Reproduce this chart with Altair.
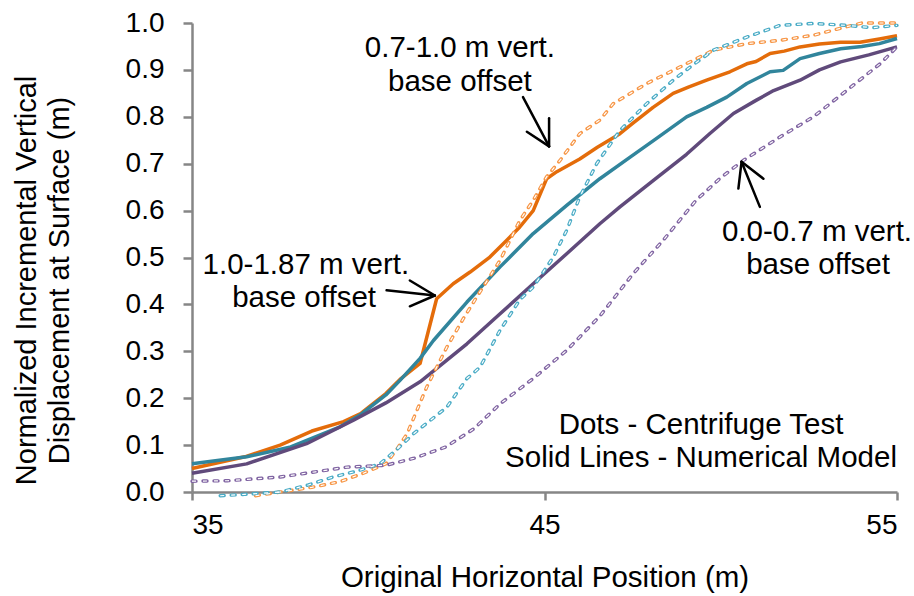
import altair as alt
import pandas as pd

# ---------------- data ----------------
# Numerical model (solid lines)
num_a_x = [35, 36.5, 37.5, 38.4, 39.3, 39.8, 40.5, 40.9, 41.47, 41.94, 42.41, 42.89, 43.45, 43.93, 44.3,
           44.68, 45.06, 45.35, 46.0, 46.5, 47.14, 47.5, 48.08, 48.65, 49.1, 49.6, 50.26, 50.74, 51.0,
           51.4, 51.8, 52.25, 52.8, 53.4, 53.95, 54.5, 55]
num_a_y = [0.05, 0.075, 0.10, 0.13, 0.15, 0.168, 0.21, 0.24, 0.274, 0.412, 0.444, 0.469, 0.501, 0.537, 0.565,
           0.60, 0.668, 0.683, 0.71, 0.735, 0.764, 0.786, 0.82, 0.85, 0.864, 0.878, 0.896, 0.913, 0.918,
           0.935, 0.94, 0.949, 0.955, 0.959, 0.959, 0.966, 0.973]

num_b_x = [35, 36.55, 37.8, 39.2, 39.8, 40.5, 40.9, 41.47, 41.85, 42.8, 43.74, 44.68, 45.63, 46.57, 47.43,
           48.2, 49.03, 49.6, 50.17, 50.74, 51.4, 51.77, 52.25, 52.8, 53.4, 54.0, 54.5, 55]
num_b_y = [0.06, 0.075, 0.096, 0.139, 0.166, 0.207, 0.238, 0.285, 0.323, 0.405, 0.48, 0.551, 0.611, 0.668, 0.714,
           0.755, 0.80, 0.82, 0.842, 0.871, 0.896, 0.899, 0.924, 0.935, 0.945, 0.95, 0.956, 0.967]

num_c_x = [35, 36.55, 38.25, 39.58, 40.5, 41.47, 42.8, 43.74, 44.68, 45.63, 46.57, 47.14, 48.1, 49.03, 49.7,
           50.36, 51.0, 51.5, 52.25, 52.8, 53.4, 54.2, 55]
num_c_y = [0.04, 0.06, 0.103, 0.153, 0.19, 0.235, 0.316, 0.38, 0.444, 0.508, 0.572, 0.608, 0.665, 0.72, 0.765,
           0.807, 0.835, 0.856, 0.878, 0.9, 0.917, 0.932, 0.949]

# Centrifuge test (dashed lines)
cen_a_x = [36.8, 37.5, 38.4, 39.2, 39.86, 40.5, 40.8, 41.1, 41.66, 42.23, 42.7, 43.08, 43.74, 44.3, 44.68,
           45.06, 45.44, 46.0, 46.57, 46.95, 47.9, 48.84, 49.79, 50.74, 51.68, 52.63, 53.57, 54.0, 55]
cen_a_y = [-0.008, 0.0, 0.01, 0.022, 0.04, 0.06, 0.09, 0.124, 0.224, 0.309, 0.37, 0.416, 0.494, 0.579, 0.622,
           0.672, 0.707, 0.764, 0.793, 0.828, 0.871, 0.906, 0.942, 0.956, 0.963, 0.974, 0.992, 1.0, 1.0]

cen_b_x = [35.8, 36.5, 37.5, 38.3, 39.0, 39.7, 40.33, 40.8, 41.28, 42.23, 42.8, 43.17, 43.74, 44.3, 44.68,
           45.25, 45.63, 46.0, 46.48, 47.14, 47.9, 48.65, 49.2, 49.79, 50.74, 51.68, 52.63, 53.57, 54.3, 55]
cen_b_y = [-0.008, -0.005, 0.0, 0.015, 0.032, 0.045, 0.06, 0.09, 0.124, 0.181, 0.242, 0.266, 0.345, 0.41, 0.437,
           0.501, 0.558, 0.629, 0.70, 0.771, 0.828, 0.878, 0.91, 0.942, 0.97, 0.995, 0.999, 0.995, 0.99, 0.995]

cen_c_x = [35, 36.0, 37.5, 38.5, 39.4, 40.5, 41.3, 42.2, 43.0, 43.74, 44.68, 45.63, 46.57, 47.52, 48.37,
           49.3, 50.0, 50.64, 51.68, 52.63, 53.57, 54.52, 55]
cen_c_y = [0.023, 0.024, 0.032, 0.043, 0.053, 0.057, 0.072, 0.096, 0.135, 0.188, 0.242, 0.302, 0.375, 0.466, 0.537,
           0.622, 0.67, 0.707, 0.757, 0.80, 0.856, 0.913, 0.949]

series_names = ["1.0-1.87 m", "0.7-1.0 m", "0.0-0.7 m"]
solid_colors = ["#E46C0A", "#31859C", "#604A7B"]
dash_colors = ["#F79646", "#4BACC6", "#8064A2"]

# annotation texts (x, y in data units)
ann_text = ["0.7-1.0 m vert.", "base offset",
            "1.0-1.87 m vert.", "base offset",
            "0.0-0.7 m vert.", "base offset",
            "Dots - Centrifuge Test", "Solid Lines - Numerical Model"]
ann_x = [42.60, 42.60, 38.23, 38.18, 52.73, 52.76, 49.44, 49.44]
ann_y = [0.946, 0.874, 0.483, 0.413, 0.554, 0.483, 0.142, 0.072]

# arrow segments (shaft + two head strokes), data units
arr_x = [44.39, 45.13, 45.13, 40.52, 41.89, 41.89, 51.11, 50.59, 50.59]
arr_y = [0.842, 0.737, 0.737, 0.430, 0.419, 0.419, 0.608, 0.704, 0.704]
arr_x2 = [45.13, 45.13, 44.50, 41.89, 41.18, 41.18, 50.59, 50.50, 51.21]
arr_y2 = [0.737, 0.797, 0.768, 0.419, 0.451, 0.396, 0.704, 0.647, 0.668]

x_ticks = [35, 45, 55]
y_ticks = [0.0, 0.1, 0.2, 0.3, 0.4, 0.5, 0.6, 0.7, 0.8, 0.9, 1.0]


def to_long(groups):
    rows = []
    for name, xs, ys in groups:
        for i, (xv, yv) in enumerate(zip(xs, ys)):
            rows.append({"series": name, "x": xv, "y": yv, "i": i})
    return pd.DataFrame(rows)


solid_df = to_long([(series_names[0], num_a_x, num_a_y),
                    (series_names[1], num_b_x, num_b_y),
                    (series_names[2], num_c_x, num_c_y)])
dash_df = to_long([(series_names[0], cen_a_x, cen_a_y),
                   (series_names[1], cen_b_x, cen_b_y),
                   (series_names[2], cen_c_x, cen_c_y)])
ann_df = pd.DataFrame({"x": ann_x, "y": ann_y, "t": ann_text})
arr_df = pd.DataFrame({"x": arr_x, "y": arr_y, "x2": arr_x2, "y2": arr_y2})

FONT = "Liberation Sans"
GRAY = "#868686"

xscale = alt.Scale(domain=[35, 55], nice=False, zero=False)
yscale = alt.Scale(domain=[0, 1], nice=False, zero=False)

xaxis = alt.Axis(values=x_ticks, title="Original Horizontal Position (m)", grid=False,
                 labelFont=FONT, labelFontSize=28, labelColor="black", labelPadding=11,
                 titleFont=FONT, titleFontSize=29.5, titleColor="black", titleFontWeight="normal",
                 titleY=94, titleBaseline="alphabetic",
                 domainColor=GRAY, domainWidth=2.5, tickColor=GRAY, tickWidth=2.5, tickSize=8)
yaxis = alt.Axis(values=y_ticks, format=".1f",
                 title=["Normalized Incremental Vertical", "Displacement at Surface (m)"], grid=False,
                 labelFont=FONT, labelFontSize=28, labelColor="black", labelPadding=19,
                 titleFont=FONT, titleFontSize=29, titleColor="black", titleFontWeight="normal",
                 titleAngle=-90, titleX=-157, titleY=257, titleAlign="center",
                 titleBaseline="alphabetic", titleLineHeight=33,
                 domainColor=GRAY, domainWidth=2.5, tickColor=GRAY, tickWidth=2.5, tickSize=9)

X = alt.X("x:Q", scale=xscale, axis=xaxis)
Y = alt.Y("y:Q", scale=yscale, axis=yaxis)

solid = alt.Chart(solid_df).mark_line(strokeWidth=3.5, strokeJoin="round").encode(
    x=X, y=Y,
    color=alt.Color("series:N", scale=alt.Scale(domain=series_names[::-1], range=solid_colors[::-1]), legend=None),
    order="i:Q",
)

dash_outer = alt.Chart(dash_df).mark_line(strokeWidth=3.4, strokeDash=[4, 7], strokeCap="round").encode(
    x=X, y=Y,
    color=alt.Color("series:N", scale=alt.Scale(domain=series_names, range=dash_colors), legend=None),
    order="i:Q",
)
dash_inner = alt.Chart(dash_df).mark_line(strokeWidth=1.2, strokeDash=[4, 7], strokeCap="butt",
                                          color="white").encode(
    x=X, y=Y, detail="series:N", order="i:Q",
)

texts = alt.Chart(ann_df).mark_text(font=FONT, fontSize=29.5, color="black", align="center",
                                    baseline="middle").encode(x=X, y=Y, text="t:N")

arrows = alt.Chart(arr_df).mark_rule(strokeWidth=2.5, color="black", strokeCap="round").encode(
    x=X, y=Y, x2="x2:Q", y2="y2:Q")

chart = alt.layer(solid, dash_outer, dash_inner, arrows, texts).resolve_scale(color="independent").properties(
    width=705, height=469,
    autosize=alt.AutoSizeParams(type="none"),
    padding={"left": 192, "top": 23, "right": 17, "bottom": 104},
).configure_view(stroke=None)

chart.save("out.html", embed_options={"renderer": "svg", "actions": False})
